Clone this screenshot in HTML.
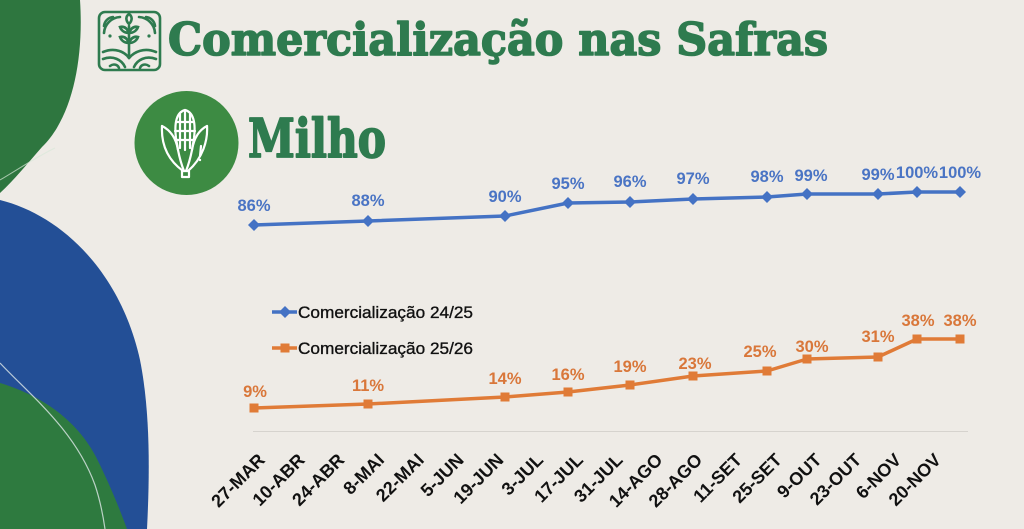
<!DOCTYPE html>
<html>
<head>
<meta charset="utf-8">
<style>
html,body{margin:0;padding:0;width:1024px;height:529px;overflow:hidden;background:#eeebe6;}
svg{display:block;}
</style>
</head>
<body>
<svg width="1024" height="529" viewBox="0 0 1024 529" xmlns="http://www.w3.org/2000/svg">
  <rect x="0" y="0" width="1024" height="529" fill="#eeebe6"/>
  <!-- left decorative shapes -->
  <path d="M0,0 L80,0 C84,60 72,118 42,147 C28,163 14,180 0,193 Z" fill="#2e763f"/>
  <path d="M0,180 C20,168 40,155 55,148" stroke="#d8e8d8" stroke-width="1" fill="none" opacity="0.7"/>
  <path d="M0,200 C60,215 120,270 140,360 C150,410 150,470 147,529 L0,529 Z" fill="#234f96"/>
  <path d="M0,383 C40,395 80,420 100,465 C112,490 120,510 127,529 L0,529 Z" fill="#2e7a3f"/>
  <path d="M0,363 C30,395 75,430 95,485 C100,500 103,515 105,529" stroke="#dfe8e8" stroke-width="1.2" fill="none" opacity="0.8"/>

  <!-- title icon -->
  <g fill="none" stroke="#2e7b4f" stroke-width="2.6" stroke-linecap="round">
    <rect x="99" y="12" width="61" height="58" rx="6"/>
    <path d="M104,26 A10,10 0 0 1 113,17"/>
    <path d="M104,33 A17,17 0 0 1 120,17"/>
    <path d="M155,26 A10,10 0 0 0 146,17"/>
    <path d="M155,33 A17,17 0 0 0 139,17"/>
    <path d="M129,56 L129,26"/>
    <path d="M129,24 C125,20 126,16 129,14 C132,16 133,20 129,24"/>
    <path d="M129,33 C124,33 121,30 120,27 C124,26 127,28 129,33"/>
    <path d="M129,33 C134,33 137,30 138,27 C134,26 131,28 129,33"/>
    <path d="M129,43 C124,43 121,40 120,37 C124,36 127,38 129,43"/>
    <path d="M129,43 C134,43 137,40 138,37 C134,36 131,38 129,43"/>
    <path d="M103,52 C115,47 125,52 129,58"/>
    <path d="M103,59 C113,55 122,60 125,67"/>
    <path d="M156,52 C144,47 134,52 129,58"/>
    <path d="M156,59 C146,55 137,60 134,67"/>
    <path d="M110,66 C114,63 118,65 119,68"/>
    <path d="M149,66 C145,63 141,65 140,68"/>
  </g>
  <circle cx="110" cy="36" r="1.6" fill="#2e7b4f"/>
  <circle cx="149" cy="36" r="1.6" fill="#2e7b4f"/>

  <!-- title -->
  <text x="168" y="55" font-family="'DejaVu Serif','Liberation Serif',serif" font-weight="bold" font-size="45" fill="#2e7b4f" stroke="#2e7b4f" stroke-width="1.6" stroke-linejoin="round" textLength="660" lengthAdjust="spacingAndGlyphs">Comercialização nas Safras</text>

  <!-- Milho circle -->
  <circle cx="186.5" cy="143" r="52" fill="#3d8b43"/>
  <g fill="none" stroke="#ffffff" stroke-width="2.2" stroke-linecap="round" stroke-linejoin="round">
    <path d="M185,110 C177,112 174,122 176,138 L178,150 M185,110 C193,112 196,122 194,138 L192,150"/>
    <path d="M176,122 L194,122 M175,131 L195,131 M176,140 L194,140 M185,111 L185,150 M180,114 L180,148 M190,114 L190,148"/>
    <path d="M162,126 C170,130 176,138 178,150 C180,160 182,166 184,171"/>
    <path d="M162,126 C161,145 168,160 183,171"/>
    <path d="M207,126 C199,130 194,138 192,150 C190,160 188,166 186,171"/>
    <path d="M207,126 C208,140 203,158 188,171"/>
    <path d="M201,146 L200,156"/>
    <rect x="182" y="171" width="7" height="6"/>
  </g>
  <circle cx="200" cy="160" r="1.2" fill="#ffffff"/>

  <!-- Milho -->
  <text x="248" y="157" font-family="'DejaVu Serif','Liberation Serif',serif" font-weight="bold" font-size="53" fill="#2e7b4f" stroke="#2e7b4f" stroke-width="1.8" stroke-linejoin="round" textLength="138" lengthAdjust="spacingAndGlyphs">Milho</text>

  <!-- axis line -->
  <line x1="253" y1="431.5" x2="968" y2="431.5" stroke="#d6d3ce" stroke-width="1"/>

  <!-- blue series -->
  <polyline fill="none" stroke="#4472c4" stroke-width="3.5" stroke-linejoin="round"
    points="254,225 368,221 505,216 568,203 630,202 693,199 767,197 807,194 878,194 917,192 960,192"/>
  <g fill="#4472c4">
    <path d="M254,219 l6,6 l-6,6 l-6,-6 Z"/>
    <path d="M368,215 l6,6 l-6,6 l-6,-6 Z"/>
    <path d="M505,210 l6,6 l-6,6 l-6,-6 Z"/>
    <path d="M568,197 l6,6 l-6,6 l-6,-6 Z"/>
    <path d="M630,196 l6,6 l-6,6 l-6,-6 Z"/>
    <path d="M693,193 l6,6 l-6,6 l-6,-6 Z"/>
    <path d="M767,191 l6,6 l-6,6 l-6,-6 Z"/>
    <path d="M807,188 l6,6 l-6,6 l-6,-6 Z"/>
    <path d="M878,188 l6,6 l-6,6 l-6,-6 Z"/>
    <path d="M917,186 l6,6 l-6,6 l-6,-6 Z"/>
    <path d="M960,186 l6,6 l-6,6 l-6,-6 Z"/>
  </g>
  <g font-family="'Liberation Sans',sans-serif" font-weight="bold" font-size="16.5" fill="#4a74c4" text-anchor="middle">
    <text x="254" y="211">86%</text>
    <text x="368" y="206">88%</text>
    <text x="505" y="202">90%</text>
    <text x="568" y="189">95%</text>
    <text x="630" y="187">96%</text>
    <text x="693" y="184">97%</text>
    <text x="767" y="182">98%</text>
    <text x="811" y="181">99%</text>
    <text x="878" y="180">99%</text>
    <text x="917" y="178">100%</text>
    <text x="960" y="178">100%</text>
  </g>

  <!-- orange series -->
  <polyline fill="none" stroke="#e07b37" stroke-width="3.5" stroke-linejoin="round"
    points="254,408 368,404 505,397 568,392 630,385 693,376 767,371 807,359 878,357 917,339 960,339"/>
  <g fill="#e07b37">
    <rect x="249.5" y="403.5" width="9" height="9"/>
    <rect x="363.5" y="399.5" width="9" height="9"/>
    <rect x="500.5" y="392.5" width="9" height="9"/>
    <rect x="563.5" y="387.5" width="9" height="9"/>
    <rect x="625.5" y="380.5" width="9" height="9"/>
    <rect x="688.5" y="371.5" width="9" height="9"/>
    <rect x="762.5" y="366.5" width="9" height="9"/>
    <rect x="802.5" y="354.5" width="9" height="9"/>
    <rect x="873.5" y="352.5" width="9" height="9"/>
    <rect x="912.5" y="334.5" width="9" height="9"/>
    <rect x="955.5" y="334.5" width="9" height="9"/>
  </g>
  <g font-family="'Liberation Sans',sans-serif" font-weight="bold" font-size="16.5" fill="#d9773a" text-anchor="middle">
    <text x="255" y="397">9%</text>
    <text x="368" y="391">11%</text>
    <text x="505" y="384">14%</text>
    <text x="568" y="380">16%</text>
    <text x="630" y="372">19%</text>
    <text x="695" y="369">23%</text>
    <text x="760" y="357">25%</text>
    <text x="812" y="352">30%</text>
    <text x="878" y="342">31%</text>
    <text x="918" y="326">38%</text>
    <text x="960" y="326">38%</text>
  </g>

  <!-- legend -->
  <line x1="272" y1="312" x2="297" y2="312" stroke="#4472c4" stroke-width="3.5"/>
  <path d="M285,306 l6,6 l-6,6 l-6,-6 Z" fill="#4472c4"/>
  <text x="298" y="318" font-family="'Liberation Sans',sans-serif" font-size="17" fill="#111" stroke="#111" stroke-width="0.35" textLength="175" lengthAdjust="spacingAndGlyphs">Comercialização 24/25</text>
  <line x1="272" y1="348" x2="297" y2="348" stroke="#e07b37" stroke-width="3.5"/>
  <rect x="280.5" y="343.5" width="9" height="9" fill="#e07b37"/>
  <text x="298" y="354" font-family="'Liberation Sans',sans-serif" font-size="17" fill="#111" stroke="#111" stroke-width="0.35" textLength="175" lengthAdjust="spacingAndGlyphs">Comercialização 25/26</text>

  <!-- x axis labels -->
  <g font-family="'Liberation Sans',sans-serif" font-weight="bold" font-size="18" fill="#111" text-anchor="end">
    <text transform="translate(266,461) rotate(-45)">27-MAR</text>
    <text transform="translate(305.8,461) rotate(-45)">10-ABR</text>
    <text transform="translate(345.5,461) rotate(-45)">24-ABR</text>
    <text transform="translate(385.3,461) rotate(-45)">8-MAI</text>
    <text transform="translate(425,461) rotate(-45)">22-MAI</text>
    <text transform="translate(464.8,461) rotate(-45)">5-JUN</text>
    <text transform="translate(504.6,461) rotate(-45)">19-JUN</text>
    <text transform="translate(544.3,461) rotate(-45)">3-JUL</text>
    <text transform="translate(584.1,461) rotate(-45)">17-JUL</text>
    <text transform="translate(623.8,461) rotate(-45)">31-JUL</text>
    <text transform="translate(663.6,461) rotate(-45)">14-AGO</text>
    <text transform="translate(703.4,461) rotate(-45)">28-AGO</text>
    <text transform="translate(743.1,461) rotate(-45)">11-SET</text>
    <text transform="translate(782.9,461) rotate(-45)">25-SET</text>
    <text transform="translate(822.6,461) rotate(-45)">9-OUT</text>
    <text transform="translate(862.4,461) rotate(-45)">23-OUT</text>
    <text transform="translate(902.2,461) rotate(-45)">6-NOV</text>
    <text transform="translate(942,461) rotate(-45)">20-NOV</text>
  </g>
</svg>
</body>
</html>
